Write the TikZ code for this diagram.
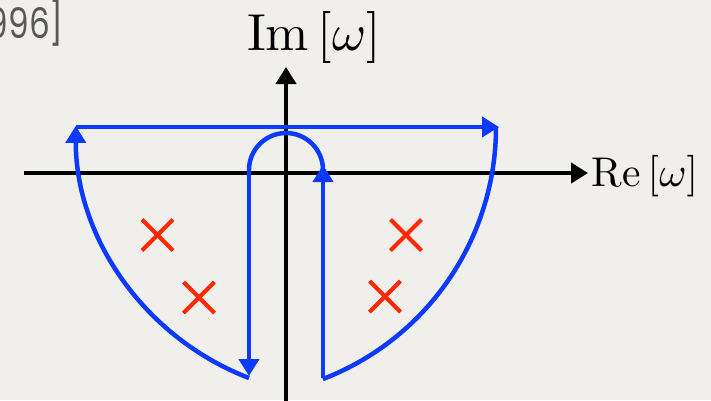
\documentclass[tikz,border=0pt]{standalone}
\usepackage{fontspec}
\usetikzlibrary{arrows.meta}
\newfontfamily\citefont{Poppins}
\definecolor{bg}{RGB}{240,239,236}
\definecolor{cblue}{RGB}{12,58,255}
\definecolor{cred}{RGB}{255,40,0}
\definecolor{cgray}{RGB}{88,88,88}
\begin{document}
\begin{tikzpicture}[x=1pt,y=1pt,
  axis/.style={line width=4.2pt,-{Triangle[length=17pt,width=20pt]}},
  contour/.style={cblue,line width=4.5pt},
  tipc/.style={-{Triangle[length=17pt,width=20pt]}},
  pole/.style={cred,line width=4pt},
  lbl/.style={font=\fontsize{10}{10}\selectfont,inner sep=0pt,transform shape}]
\fill[bg] (0,0) rectangle (711,-400);
\useasboundingbox (0,0) rectangle (711,-400);
% axes
\coordinate (xl) at (24,-173);
\coordinate (xr) at (588,-173);
\coordinate (yb) at (286,-402);
\coordinate (yt) at (286,-67);
\draw[axis] (xl) -- (xr);
\draw[axis] (yb) -- (yt);
% labels
\node[lbl,scale=5.2,anchor=base west] (im) at (246,-50) {$\mathrm{Im}\,[\omega]$};
\node[lbl,scale=4.15,anchor=base west] (re) at (591,-186) {$\mathrm{Re}\,[\omega]$};
\node[anchor=base east,text=cgray,font=\citefont\fontsize{42}{42}\selectfont,
  inner sep=0pt,xscale=0.78,transform shape] (cite) at (64,-38) {996]};
% contour
\coordinate (tl) at (76,-127);
\coordinate (tr) at (499,-127);
\coordinate (ra) at (496,-127);
\coordinate (rb) at (323,-378);
\coordinate (rt) at (323,-165);
\coordinate (sr) at (323,-170);
\coordinate (sl) at (249,-170);
\coordinate (lb) at (249,-376);
\coordinate (la) at (249,-378);
\draw[contour,tipc] (tl) -- (tr);
\draw[contour] (ra) arc[start angle=0,end angle=-69,radius=270];
\draw[contour,tipc] (rb) -- (rt);
\draw[contour] (sr) arc[start angle=0,end angle=180,radius=37];
\draw[contour,tipc] (sl) -- (lb);
\draw[contour,tipc] (la) arc[start angle=249,end angle=180,radius=270];
% poles
\foreach \n/\cx/\cy in {p1/157.5/-235,p2/199/-297.5,p3/406/-235,p4/385/-296.5}{
  \coordinate (\n) at (\cx,\cy);
  \draw[pole] ([shift={(-15.5,-15.5)}]\n) -- ([shift={(15.5,15.5)}]\n);
  \draw[pole] ([shift={(-15.5,15.5)}]\n) -- ([shift={(15.5,-15.5)}]\n);
}
\end{tikzpicture}
\end{document}
